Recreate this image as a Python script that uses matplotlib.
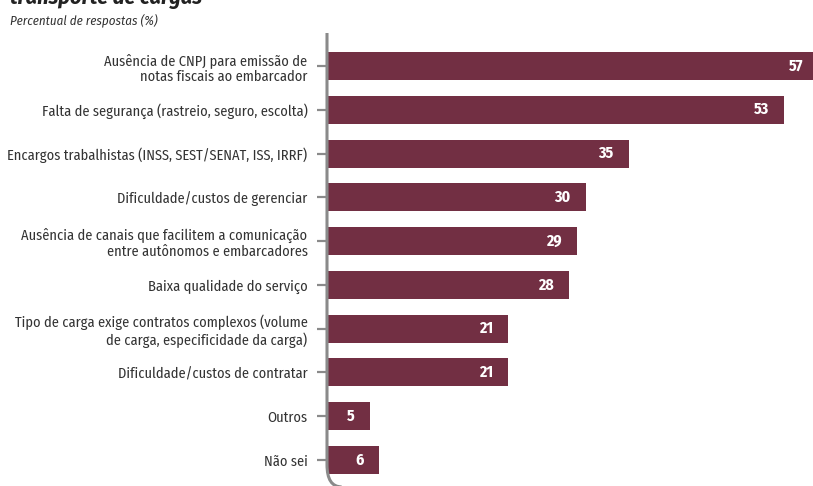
import matplotlib
matplotlib.use("Agg")
import matplotlib.pyplot as plt
from matplotlib.path import Path
from matplotlib.patches import PathPatch
from matplotlib import font_manager

categories = [
    "Ausência de CNPJ para emissão de\nnotas fiscais ao embarcador",
    "Falta de segurança (rastreio, seguro, escolta)",
    "Encargos trabalhistas (INSS, SEST/SENAT, ISS, IRRF)",
    "Dificuldade/custos de gerenciar",
    "Ausência de canais que facilitem a comunicação\nentre autônomos e embarcadores",
    "Baixa qualidade do serviço",
    "Tipo de carga exige contratos complexos (volume\nde carga, especificidade da carga)",
    "Dificuldade/custos de contratar",
    "Outros",
    "Não sei",
]
values = [57, 53, 35, 30, 29, 28, 21, 21, 5, 6]
title = "transporte de cargas"
subtitle = "Percentual de respostas (%)"

files = {f.fname.split("/")[-1]: f.fname for f in font_manager.fontManager.ttflist}


def pick(cands):
    for c in cands:
        if c in files:
            return font_manager.FontProperties(fname=files[c])
    return font_manager.FontProperties(family="Roboto")


fp_reg = pick(["FiraSansCondensed-Regular.ttf", "BarlowSemiCondensed-Regular.ttf", "AsapCondensed-Regular.ttf"])
fp_bold = pick(["FiraSansCondensed-Bold.ttf", "BarlowSemiCondensed-Bold.ttf", "AsapCondensed-Bold.ttf"])
fp_it = pick(["FiraSansCondensed-Italic.ttf", "BarlowSemiCondensed-Italic.ttf", "AsapCondensed-Italic.ttf"])
fp_bi = pick(["FiraSansCondensed-BoldItalic.ttf", "BarlowSemiCondensed-BoldItalic.ttf", "AsapCondensed-BoldItalic.ttf"])

bar_color = "#722F43"
gray = "#8a8a8a"

W, H = 813, 486
fig = plt.figure(figsize=(W / 100, H / 100), dpi=100)

probe_fp = fp_reg.copy()
probe_fp.set_size(10)
probe = fig.text(0, 0, categories[2], fontproperties=probe_fp)
r = fig.canvas.get_renderer()
w10 = probe.get_window_extent(r).width
probe.remove()
lab_size = 10 * 300 / w10

left_px, right_px, top_px, bot_px = 327, 813, 33, 478
ax = fig.add_axes([left_px / W, 1 - bot_px / H, (right_px - left_px) / W, (bot_px - top_px) / H])

pos = list(range(len(categories)))
ax.barh(pos, values, height=0.64, color=bar_color, zorder=2)
ax.set_xlim(0, (right_px - left_px) / 8.63)
ax.set_ylim(9.41, -0.753)

num_fp = fp_bold.copy()
num_fp.set_size(lab_size * 1.1)
for p, v in zip(pos, values):
    ax.annotate(str(v), xy=(v, p), xytext=(-11, 0), textcoords="offset points",
                ha="right", va="center", color="white", fontproperties=num_fp,
                annotation_clip=False)

ax.set_yticks(pos)
ax.set_yticklabels(categories, color="#333333", linespacing=1.15)
lab_fp = fp_reg.copy()
lab_fp.set_size(lab_size)
for t in ax.get_yticklabels():
    t.set_fontproperties(lab_fp)
ax.tick_params(axis="y", length=7, width=1.6, color=gray, pad=7, direction="out")
ax.set_xticks([])
for s in ax.spines.values():
    s.set_visible(False)

verts = [(0, 1.0), (0, 0.03), (0, -0.02), (0.03, -0.02)]
codes = [Path.MOVETO, Path.LINETO, Path.CURVE3, Path.CURVE3]
ax.add_patch(PathPatch(Path(verts, codes), transform=ax.transAxes, fill=False,
                       edgecolor=gray, linewidth=2.2, clip_on=False, zorder=3))

t_fp = fp_bi.copy()
t_fp.set_size(16)
fig.text(10 / W, 1 - 4 / H, title, fontproperties=t_fp,
         color="#222222", va="baseline", ha="left")
s_fp = fp_it.copy()
s_fp.set_size(lab_size * 0.9)
fig.text(10 / W, 1 - 20 / H, subtitle, fontproperties=s_fp, color="#333333",
         va="center", ha="left")

fig.savefig("out.png", dpi=100)
